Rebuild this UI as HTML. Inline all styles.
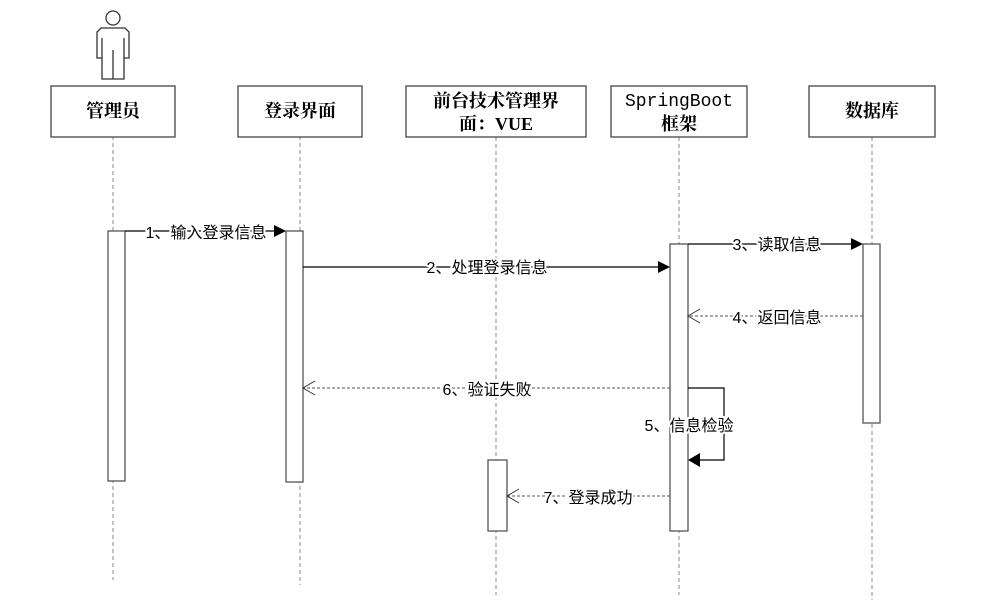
<!DOCTYPE html>
<html><head><meta charset="utf-8"><style>
html,body{margin:0;padding:0;background:#fff;}
svg{display:block;}
.t{font-family:"Liberation Serif","Noto Serif CJK SC",serif;font-size:18px;font-weight:bold;fill:#000;}
.m{font-family:"Liberation Sans","Noto Sans CJK SC",sans-serif;font-size:16px;fill:#000;stroke:#fff;stroke-width:4px;paint-order:stroke;stroke-linejoin:round;}
</style></head><body>
<svg width="987" height="612" viewBox="0 0 987 612" xmlns="http://www.w3.org/2000/svg">
<g stroke="#888" stroke-dasharray="4,3" stroke-width="1">
<line x1="113" y1="136" x2="113" y2="580"/>
<line x1="300" y1="136" x2="300" y2="585"/>
<line x1="496" y1="137" x2="496" y2="595"/>
<line x1="679" y1="137" x2="679" y2="595"/>
<line x1="872" y1="137" x2="872" y2="600"/>
</g>
<g fill="#fff" stroke="#333" stroke-width="1.3">
<circle cx="113" cy="18" r="7"/>
<path d="M101,28 H125 L129,32 V58 H124 V79 H102 V58 H97 V32 Z"/>
<line x1="113" y1="50" x2="113" y2="79"/>
<line x1="102" y1="38" x2="102" y2="58"/>
<line x1="124" y1="38" x2="124" y2="58"/>
</g>
<g fill="#fff" stroke="#444" stroke-width="1.3">
<rect x="51" y="86" width="124" height="51"/>
<rect x="238" y="86" width="124" height="51"/>
<rect x="406" y="86" width="180" height="51"/>
<rect x="611" y="86" width="136" height="51"/>
<rect x="809" y="86" width="126" height="51"/>
</g>
<text class="t" x="113" y="117" text-anchor="middle">管理员</text>
<text class="t" x="300" y="117" text-anchor="middle">登录界面</text>
<text class="t" x="496" y="107" text-anchor="middle">前台技术管理界</text>
<text class="t" x="496" y="130" text-anchor="middle">面：VUE</text>
<text class="t" x="679" y="106" text-anchor="middle" style="font-weight:normal;font-family:'Liberation Mono','Noto Serif CJK SC',monospace">SpringBoot</text>
<text class="t" x="679" y="130" text-anchor="middle">框架</text>
<text class="t" x="872" y="117" text-anchor="middle">数据库</text>
<g fill="#fff" stroke="#555" stroke-width="1.3">
<rect x="108" y="231" width="17" height="250"/>
<rect x="286" y="231" width="17" height="251"/>
<rect x="488" y="460" width="19" height="71"/>
<rect x="670" y="244" width="18" height="287"/>
<rect x="863" y="244" width="17" height="179"/>
</g>
<g stroke="#000" stroke-width="1.2" fill="none">
<line x1="125" y1="231" x2="274" y2="231"/>
<line x1="303" y1="267" x2="658" y2="267"/>
<line x1="688" y1="244" x2="851" y2="244"/>
<polyline points="688,388 724,388 724,460 700,460"/>
</g>
<g fill="#000">
<polygon points="286,231 274,225 274,237"/>
<polygon points="670,267 658,261 658,273"/>
<polygon points="863,244 851,238 851,250"/>
<polygon points="688,460 700,453 700,467"/>
</g>
<g stroke="#555" stroke-width="1" stroke-dasharray="3,2" fill="none">
<line x1="863" y1="316" x2="688" y2="316"/>
<line x1="670" y1="388" x2="303" y2="388"/>
<line x1="670" y1="496" x2="507" y2="496"/>
</g>
<g stroke="#333" stroke-width="1" fill="none">
<polyline points="700,309 688,316 700,323"/>
<polyline points="315,381 303,388 315,395"/>
<polyline points="519,489 507,496 519,503"/>
</g>
<text class="m" x="206" y="238" text-anchor="middle">1、输入登录信息</text>
<text class="m" x="487" y="273" text-anchor="middle">2、处理登录信息</text>
<text class="m" x="777" y="250" text-anchor="middle">3、读取信息</text>
<text class="m" x="777" y="323" text-anchor="middle">4、返回信息</text>
<text class="m" x="487" y="395" text-anchor="middle">6、验证失败</text>
<text class="m" x="689" y="431" text-anchor="middle">5、信息检验</text>
<text class="m" x="588" y="503" text-anchor="middle">7、登录成功</text>
</svg>
</body></html>
